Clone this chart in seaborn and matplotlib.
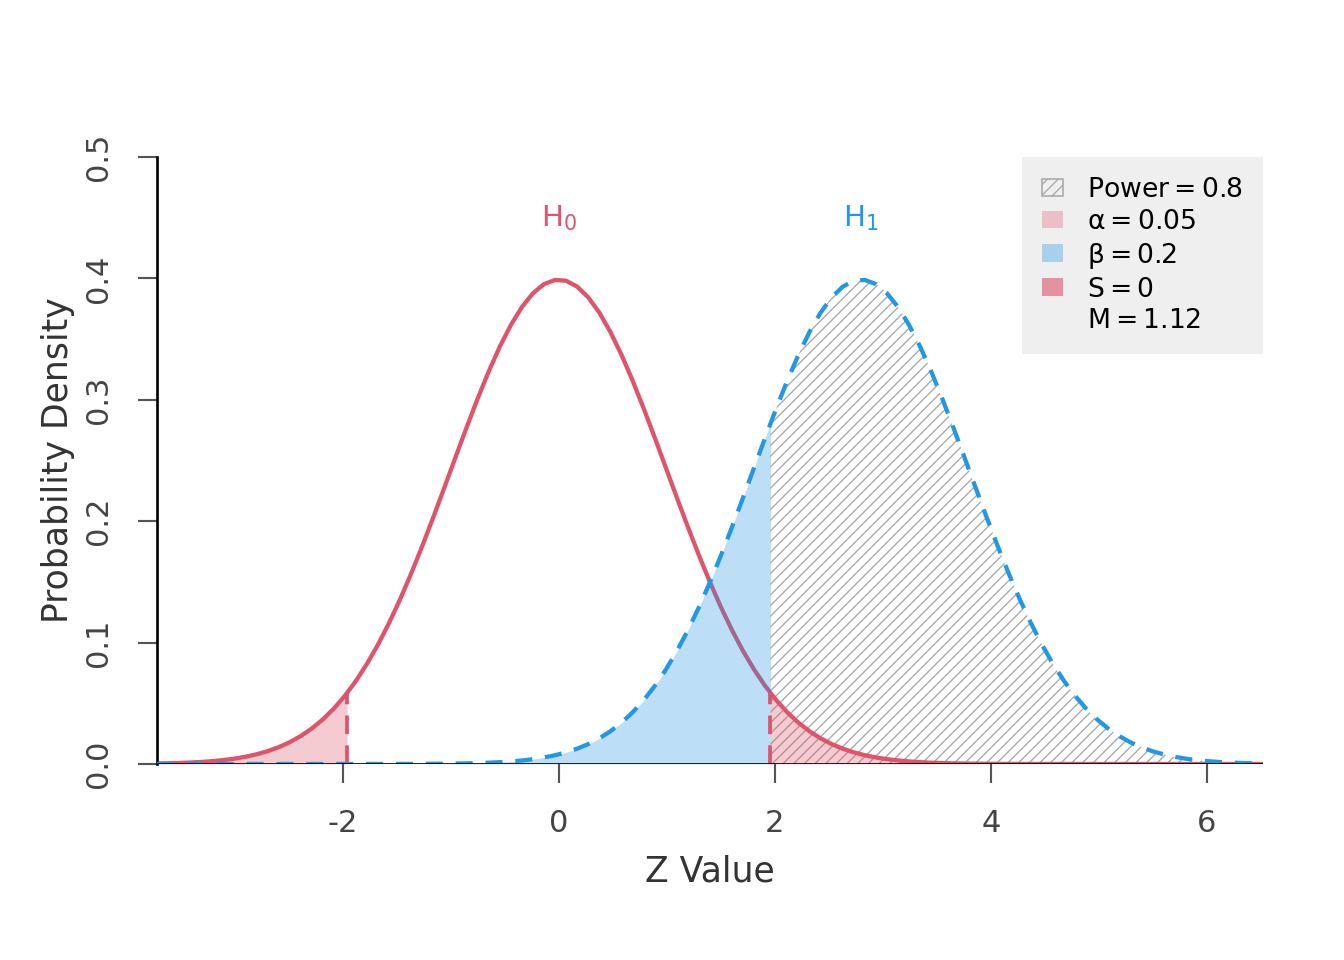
import numpy as np
import pandas as pd
import seaborn as sns
import matplotlib.pyplot as plt
from matplotlib.patches import Patch

# test parameters
h0_mean = 0.0
h1_mean = 2.8
crit = 1.96
power = 0.8
alpha_level = 0.05
beta_level = 0.2
s_val = 0
m_val = 1.12

x_range = (-3.72, 6.52)
y_ticks = [0.0, 0.1, 0.2, 0.3, 0.4, 0.5]
x_ticks = [-2, 0, 2, 4, 6]

red = "#DF536B"
blue = "#2297E6"


def norm_pdf(z, mu):
    return np.exp(-0.5 * (z - mu) ** 2) / np.sqrt(2 * np.pi)


z = np.linspace(x_range[0], x_range[1], 101)
df = pd.DataFrame({"z": z, "h0": norm_pdf(z, h0_mean), "h1": norm_pdf(z, h1_mean)})

sns.set_style("white")
plt.rcParams["hatch.linewidth"] = 0.5
plt.rcParams["font.family"] = ["DejaVu Sans"]

fig = plt.figure(figsize=(7, 5), dpi=192)
ax = fig.add_axes([0.1168, 0.2042, 0.8229, 0.6323])

# H0 curve
sns.lineplot(data=df, x="z", y="h0", color=red, lw=1.6, ax=ax, zorder=2)

# fine grids for the shaded parts
zl = np.linspace(x_range[0], -crit, 60)
zr = np.linspace(crit, x_range[1], 120)
zb = np.linspace(x_range[0], crit, 150)

# power (hatched)
ax.fill_between(zr, 0, norm_pdf(zr, h1_mean), facecolor="none", edgecolor="#A8A8A8",
                hatch="//////", lw=0, zorder=1)
# beta
ax.fill_between(zb, 0, norm_pdf(zb, h1_mean), color=blue, alpha=0.3, lw=0, zorder=3)
# alpha tails
ax.fill_between(zl, 0, norm_pdf(zl, h0_mean), color=red, alpha=0.3, lw=0, zorder=3)
ax.fill_between(zr, 0, norm_pdf(zr, h0_mean), color=red, alpha=0.3, lw=0, zorder=3)

# critical value lines
for c in (-crit, crit):
    ax.plot([c, c], [0, norm_pdf(c, h0_mean)], color=red, lw=1.4, ls=(0, (5, 3)), zorder=4)

# H1 curve
sns.lineplot(data=df, x="z", y="h1", color=blue, lw=1.6, ax=ax, zorder=5)
ax.lines[-1].set_dashes([4, 3])

ax.axhline(0, color="black", lw=1.0, zorder=6)

ax.text(h0_mean, 0.45, r"$\mathregular{H_0}$", color=red, ha="center", va="center", fontsize=11)
ax.text(h1_mean, 0.45, r"$\mathregular{H_1}$", color=blue, ha="center", va="center", fontsize=11)

ax.set_xlim(*x_range)
ax.set_ylim(0, 0.5)
ax.set_xticks(x_ticks)
ax.set_xticklabels([str(t) for t in x_ticks])
ax.set_yticks(y_ticks)
ax.set_yticklabels([f"{t:.1f}" for t in y_ticks], rotation=90, va="center")
ax.tick_params(axis="both", bottom=True, left=True, colors="#555555", labelcolor="#444444",
               labelsize=11.5, length=7, width=0.8, direction="out")
ax.tick_params(axis="x", pad=10)
ax.tick_params(axis="y", pad=9.5)
ax.set_xlabel("Z Value", fontsize=13, color="#333333", labelpad=6)
ax.set_ylabel("Probability Density", fontsize=13, color="#333333", labelpad=3.5)

for side in ("top", "right", "bottom"):
    ax.spines[side].set_visible(False)
ax.spines["left"].set_color("black")
ax.spines["left"].set_linewidth(1.0)

handles = [
    Patch(facecolor="none", edgecolor="#A8A8A8", hatch="//////", lw=0.6),
    Patch(facecolor=red, alpha=0.3, lw=0),
    Patch(facecolor=blue, alpha=0.35, lw=0),
    Patch(facecolor=red, alpha=0.6, lw=0),
    Patch(facecolor="none", edgecolor="none"),
]
labels = [
    r"$\mathregular{Power = %g}$" % power,
    r"$\mathregular{α = %g}$" % alpha_level,
    r"$\mathregular{β = %g}$" % beta_level,
    r"$\mathregular{S = %g}$" % s_val,
    r"$\mathregular{M = %g}$" % m_val,
]
leg = ax.legend(handles, labels, loc="upper right", frameon=True, fontsize=10,
                borderaxespad=0, borderpad=0.75, labelspacing=0.22, handlelength=0.8,
                handleheight=0.65, handletextpad=0.9, fancybox=False, labelcolor="black")
leg.get_frame().set_facecolor("#EBEBEB")
leg.get_frame().set_edgecolor("none")
leg.set_zorder(10)

fig.savefig("out.png", dpi=192)
